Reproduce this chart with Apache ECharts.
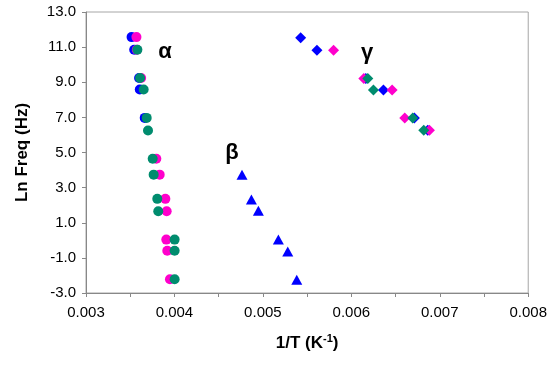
<!DOCTYPE html>
<html>
<head>
<meta charset="utf-8">
<script src="https://cdn.jsdelivr.net/npm/echarts@6/dist/echarts.min.js"></script>
<style>
html,body{margin:0;padding:0;background:#fff;}
#chart{width:550px;height:365px;}
</style>
</head>
<body>
<div id="chart"></div>
<script>
// ---- data (1/T in K^-1, Ln Freq) ----
const alphaBlue = [[0.003515, 11.57], [0.003545, 10.85], [0.003600, 9.24], [0.003608, 8.59], [0.003664, 6.97]];
const alphaMagenta = [[0.003570, 11.57], [0.003575, 10.85], [0.003623, 9.24], [0.003795, 4.64], [0.003833, 3.74],
  [0.003897, 2.36], [0.003912, 1.65], [0.003908, 0.04], [0.003919, -0.59], [0.003949, -2.22]];
const alphaGreen = [[0.003581, 10.85], [0.003611, 9.24], [0.003652, 8.59], [0.003686, 6.97], [0.003701, 6.25],
  [0.003754, 4.64], [0.003765, 3.74], [0.003806, 2.36], [0.003817, 1.65], [0.004002, 0.04], [0.004002, -0.59], [0.004002, -2.22]];
const betaBlue = [[0.004764, 3.73], [0.004870, 2.32], [0.004949, 1.68], [0.005175, 0.04], [0.005281, -0.64], [0.005383, -2.24]];
const gammaBlue = [[0.005427, 11.54], [0.005611, 10.82], [0.006164, 9.22], [0.006363, 8.56], [0.006713, 6.96], [0.006864, 6.26]];
const gammaMagenta = [[0.005799, 10.82], [0.006141, 9.22], [0.006461, 8.56], [0.006604, 6.96], [0.006883, 6.26]];
const gammaGreen = [[0.006186, 9.22], [0.006250, 8.56], [0.006694, 6.96], [0.006819, 6.26]];

const xTicks = { min: 0.003, max: 0.008, step: 0.001 };
const yTicks = { min: -3, max: 13, step: 2 };
const phaseLabels = ['α', 'β', 'γ'];
const xTitle = '1/T (K';
const yTitle = 'Ln Freq (Hz)';

const BLUE = '#0000FF', MAGENTA = '#FF00CC', GREEN = '#008C6E';

const chart = echarts.init(document.getElementById('chart'), null, { renderer: 'canvas' });

function sc(name, data, symbol, size, color) {
  return { name, type: 'scatter', data, symbol, symbolSize: size,
    itemStyle: { color, opacity: 1 }, emphasis: { disabled: true }, animation: false };
}

const font = '"Liberation Sans", Arial, sans-serif';
const greekFont = 'bold 22px "Liberation Sans", "DejaVu Sans", sans-serif';

chart.setOption({
  animation: false,
  backgroundColor: '#fff',
  grid: { left: 86, right: 21, top: 12, bottom: 72, show: true, borderColor: '#a6a6a6', borderWidth: 1, containLabel: false },
  xAxis: {
    type: 'value', min: xTicks.min, max: xTicks.max, interval: xTicks.step,
    axisLine: { show: true, onZero: false, lineStyle: { color: '#888', width: 1 } },
    axisTick: { show: true, inside: false, length: 4, lineStyle: { color: '#888' } },
    minorTick: { show: true, splitNumber: 2, length: 4, lineStyle: { color: '#888' } },
    splitLine: { show: false },
    axisLabel: { formatter: v => v.toFixed(3), color: '#000', fontSize: 15, fontFamily: font, margin: 12 },
    name: '{t|' + xTitle + '}{s|-1}{t|)}', nameLocation: 'middle', nameGap: 40,
    nameTextStyle: { rich: {
      t: { fontSize: 17, fontWeight: 'bold', color: '#000', fontFamily: font, verticalAlign: 'bottom' },
      s: { fontSize: 11, fontWeight: 'bold', color: '#000', fontFamily: font, verticalAlign: 'top', padding: [0, 0, 8, 0] }
    } }
  },
  yAxis: {
    type: 'value', min: yTicks.min, max: yTicks.max, interval: yTicks.step,
    axisLine: { show: true, onZero: false, lineStyle: { color: '#888', width: 1 } },
    axisTick: { show: true, inside: false, length: 4, lineStyle: { color: '#888' } },
    splitLine: { show: false },
    axisLabel: { formatter: v => v.toFixed(1), color: '#000', fontSize: 15, fontFamily: font, margin: 10 },
    name: yTitle, nameLocation: 'middle', nameGap: 55, nameRotate: 90,
    nameTextStyle: { fontSize: 17, fontWeight: 'bold', color: '#000', fontFamily: font }
  },
  graphic: [
    { type: 'text', x: 165, y: 52, style: { text: phaseLabels[0], fill: '#000', font: greekFont, align: 'center', verticalAlign: 'middle' } },
    { type: 'text', x: 232, y: 153, style: { text: phaseLabels[1], fill: '#000', font: greekFont, align: 'center', verticalAlign: 'middle' } },
    { type: 'text', x: 367, y: 53, style: { text: phaseLabels[2], fill: '#000', font: greekFont, align: 'center', verticalAlign: 'middle' } }
  ],
  series: [
    sc('alpha-blue', alphaBlue, 'circle', 10, BLUE),
    sc('beta-blue', betaBlue, 'triangle', [11, 10], BLUE),
    sc('gamma-blue', gammaBlue, 'diamond', [11, 11], BLUE),
    sc('alpha-magenta', alphaMagenta, 'circle', 10, MAGENTA),
    sc('gamma-magenta', gammaMagenta, 'diamond', [11, 11], MAGENTA),
    sc('alpha-green', alphaGreen, 'circle', 10, GREEN),
    sc('gamma-green', gammaGreen, 'diamond', [11, 11], GREEN)
  ]
});
</script>
</body>
</html>
